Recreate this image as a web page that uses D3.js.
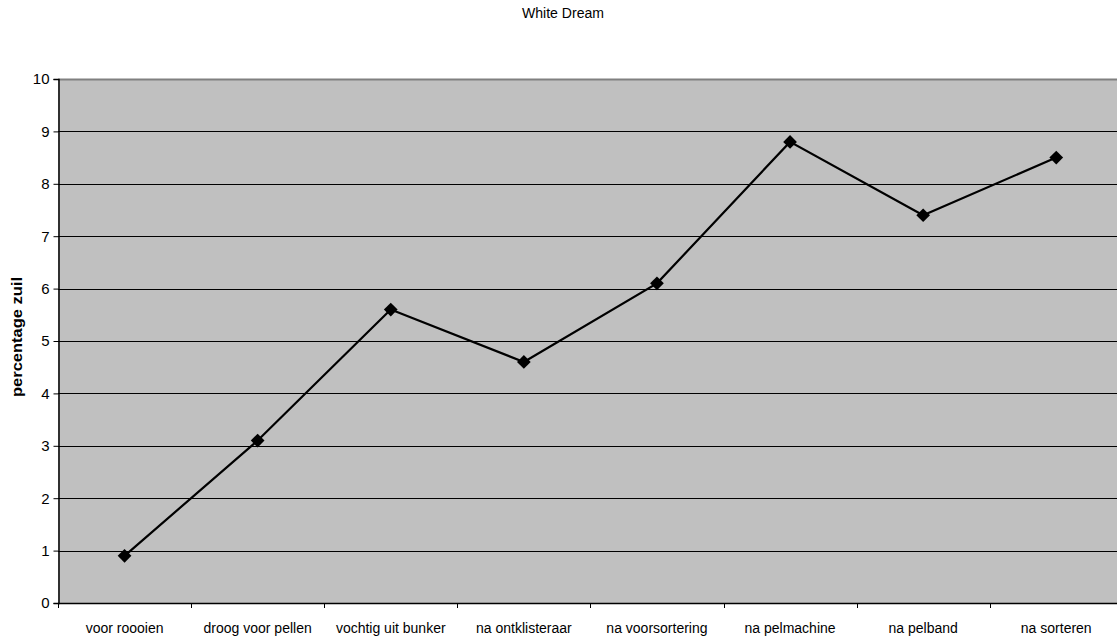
<!DOCTYPE html>
<html>
<head>
<meta charset="utf-8">
<script src="https://cdn.jsdelivr.net/npm/d3@7"></script>
<style>
  html, body { margin: 0; padding: 0; background: #fff; }
  svg { display: block; }
  text { font-family: "Liberation Sans Narrow", "Arial Narrow", "Liberation Sans", Arial, sans-serif; fill: #000; }
</style>
</head>
<body>
<svg id="chart" width="1117" height="638"></svg>
<script>
const title = "White Dream";
const yLabel = "percentage zuil";
const categories = ["voor roooien", "droog voor pellen", "vochtig uit bunker", "na ontklisteraar",
                    "na voorsortering", "na pelmachine", "na pelband", "na sorteren"];
const values = [0.9, 3.1, 5.6, 4.6, 6.1, 8.8, 7.4, 8.5];
const yTicks = [0, 1, 2, 3, 4, 5, 6, 7, 8, 9, 10];

const svg = d3.select("#chart");
const plotLeft = 58, plotTop = 79, plotBottom = 603;
const bandW = 133.1;
const plotRight = plotLeft + bandW * categories.length;

const x = d3.scaleBand().domain(categories).range([plotLeft, plotRight]).padding(0);
const y = d3.scaleLinear().domain([0, 10]).range([plotBottom, plotTop]);

// plot background
svg.append("rect")
  .attr("x", plotLeft).attr("y", plotTop)
  .attr("width", plotRight - plotLeft).attr("height", plotBottom - plotTop)
  .attr("fill", "#c0c0c0");

// horizontal gridlines
svg.append("g").selectAll("line")
  .data(yTicks.filter(d => d > 0))
  .join("line")
  .attr("x1", plotLeft).attr("x2", plotRight)
  .attr("y1", d => Math.round(y(d)) + 0.5).attr("y2", d => Math.round(y(d)) + 0.5)
  .attr("stroke", d => d === 10 ? "#808080" : "#000")
  .attr("stroke-width", d => d === 10 ? 2 : 1);

// y axis
const yAxis = svg.append("g")
  .attr("transform", `translate(${plotLeft + 0.5},0)`)
  .call(d3.axisLeft(y).tickValues(yTicks).tickSize(5).tickPadding(4).tickFormat(d3.format("d")));
yAxis.select(".domain").attr("stroke", "#000").attr("stroke-width", 1.5);
yAxis.selectAll(".tick line").attr("stroke", "#000");
yAxis.selectAll("text").style("font-size", "15px");

// x axis with ticks at category boundaries
svg.append("line")
  .attr("x1", plotLeft).attr("x2", plotRight)
  .attr("y1", plotBottom + 0.5).attr("y2", plotBottom + 0.5)
  .attr("stroke", "#000").attr("stroke-width", 1.5);
svg.append("g").selectAll("line")
  .data(d3.range(categories.length + 1))
  .join("line")
  .attr("x1", i => Math.round(plotLeft + i * bandW) + 0.5)
  .attr("x2", i => Math.round(plotLeft + i * bandW) + 0.5)
  .attr("y1", plotBottom).attr("y2", plotBottom + 5)
  .attr("stroke", "#000");
svg.append("g").selectAll("text")
  .data(categories)
  .join("text")
  .attr("x", d => x(d) + x.bandwidth() / 2)
  .attr("y", 633)
  .attr("text-anchor", "middle")
  .style("font-size", "14px")
  .text(d => d);

// data line
const cx = d => x(d) + x.bandwidth() / 2;
const line = d3.line().x((d, i) => cx(categories[i])).y(d => y(d));
svg.append("path")
  .datum(values)
  .attr("d", line)
  .attr("fill", "none")
  .attr("stroke", "#000")
  .attr("stroke-width", 2.2);

// diamond markers
svg.append("g").selectAll("path")
  .data(values)
  .join("path")
  .attr("transform", (d, i) => `translate(${cx(categories[i])},${y(d)})`)
  .attr("d", d3.symbol().type(d3.symbolDiamond2).size(120))
  .attr("fill", "#000");

// title
svg.append("text")
  .attr("x", 563).attr("y", 18)
  .attr("text-anchor", "middle")
  .attr("textLength", 82)
  .attr("lengthAdjust", "spacingAndGlyphs")
  .style("font-size", "14px")
  .text(title);

// y label
svg.append("text")
  .attr("transform", `translate(22,337) rotate(-90)`)
  .attr("text-anchor", "middle")
  .attr("textLength", 120)
  .attr("lengthAdjust", "spacingAndGlyphs")
  .style("font-size", "14px")
  .style("font-weight", "bold")
  .text(yLabel);
</script>
</body>
</html>
